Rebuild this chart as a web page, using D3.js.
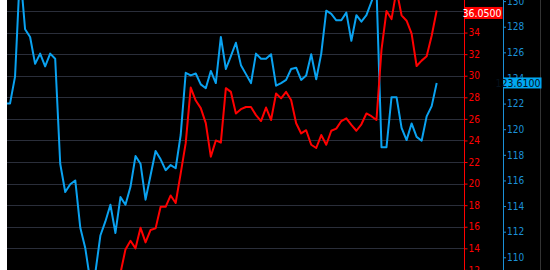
<!DOCTYPE html>
<html>
<head>
<meta charset="utf-8">
<script src="https://cdn.jsdelivr.net/npm/d3@7"></script>
<style>
  html, body { margin: 0; padding: 0; background: #000; }
  svg { display: block; }
  text { font-family: "Liberation Sans Narrow", "DejaVu Sans Condensed", Arial, sans-serif; }
</style>
</head>
<body>
<svg id="chart" width="550" height="270"></svg>
<script>
// Bar index (session number) along the x axis
const sessions = d3.range(1, 88);

// Blue series (right scale, 110–130)
const blueValues = [
  122.0, 122.0, 124.1, 132.4, 127.8, 127.2, 125.1, 125.9, 124.9, 125.9,
  125.5, 117.3, 115.1, 115.7, 116.0, 112.3, 110.7, 108.1, 108.8, 111.7,
  112.8, 114.1, 111.9, 114.7, 114.1, 115.5, 117.9, 117.3, 114.5, 116.4,
  118.3, 117.65, 116.8, 117.2, 116.95, 119.55, 124.4, 124.2, 124.35, 123.5,
  123.2, 124.55, 123.6, 127.2, 124.7, 125.7, 126.75, 125.0, 124.3, 123.6,
  125.9, 125.5, 125.5, 125.85, 123.4, 123.6, 123.85, 124.7, 124.8, 123.85,
  124.2, 125.85, 123.9, 125.9, 129.25, 129.0, 128.5, 128.5, 129.1, 126.9,
  128.9, 128.4, 128.9, 129.95, 131.0, 118.6, 118.6, 122.5, 122.5, 120.1,
  119.15, 120.45, 119.4, 119.1, 121.0, 121.8, 123.61
];

// Red series (inner scale, 12–36); earlier sessions lie below the visible range
const redValues = [
  null, null, null, null, null, null, null, null, null, null,
  null, null, null, null, null, null, null, null, null, null,
  null, null, 11.0, 11.7, 13.9, 14.7, 14.0, 15.9, 14.55, 15.7,
  15.85, 17.85, 17.85, 18.9, 18.2, 20.95, 23.75, 28.9, 27.7, 27.0,
  25.6, 22.5, 24.0, 23.8, 28.85, 28.5, 26.5, 26.9, 27.1, 27.1,
  26.35, 25.8, 27.05, 25.9, 28.35, 27.9, 28.5, 27.75, 25.6, 24.65,
  24.95, 23.6, 23.3, 24.5, 23.6, 24.9, 25.1, 25.8, 26.05, 25.45,
  24.9, 25.5, 26.5, 26.25, 25.9, 32.4, 36.0, 35.25, 37.95, 35.6,
  35.1, 33.9, 30.9, 31.4, 31.8, 33.7, 36.05
];

const redTicks = [12, 14, 16, 18, 20, 22, 24, 26, 28, 30, 32, 34, 36];
const blueTicks = [110, 112, 114, 116, 118, 120, 122, 124, 126, 128, 130];
const redLast = "36.0500";
const blueLast = "123.6100";

const svg = d3.select("#chart");
const W = 550, H = 270;
const plotLeft = 7, redAxisX = 464.5, blueAxisX = 503.5, borderX = 540.5;

const RED = "#ff0000", BLUE_LINE = "#0aa2f0", BLUE_AXIS = "#1b90d8", GRID = "#2a2e3a";
const FONT = "'Liberation Sans Narrow', 'DejaVu Sans Condensed', Arial, sans-serif";

svg.append("rect").attr("width", W).attr("height", H).attr("fill", "#000");

const x = d3.scaleLinear().domain([1, 87]).range([5, 436.7]);
const yRed = d3.scaleLinear().domain([12, 36]).range([269.9, 11]);
const yBlue = d3.scaleLinear().domain([110, 130]).range([257.3, 1.1]);

// gridlines (red scale)
svg.append("g").selectAll("line").data(redTicks).join("line")
  .attr("x1", plotLeft).attr("x2", redAxisX)
  .attr("y1", d => Math.round(yRed(d)) + 0.5).attr("y2", d => Math.round(yRed(d)) + 0.5)
  .attr("stroke", GRID).attr("stroke-width", 1);

svg.append("defs").append("clipPath").attr("id", "plotclip")
  .append("rect").attr("x", plotLeft).attr("y", 0).attr("width", redAxisX - plotLeft).attr("height", H);

const plot = svg.append("g").attr("clip-path", "url(#plotclip)");

const blueLine = d3.line().x((d, i) => x(sessions[i])).y(d => yBlue(d));
plot.append("path").datum(blueValues).attr("d", blueLine)
  .attr("fill", "none").attr("stroke", BLUE_LINE).attr("stroke-width", 2).attr("stroke-linejoin", "round");

const redLine = d3.line().defined(d => d !== null).x((d, i) => x(sessions[i])).y(d => yRed(d));
plot.append("path").datum(redValues).attr("d", redLine)
  .attr("fill", "none").attr("stroke", RED).attr("stroke-width", 2).attr("stroke-linejoin", "round");

// left white strip
svg.append("rect").attr("x", 0).attr("y", 0).attr("width", plotLeft).attr("height", H).attr("fill", "#ffffff");

// red axis
const redAxis = svg.append("g").attr("transform", `translate(${redAxisX},0)`)
  .call(d3.axisRight(yRed).tickValues(redTicks).tickSize(3).tickPadding(1).tickFormat(d3.format("d")));
redAxis.select(".domain").remove();
redAxis.selectAll(".tick line").attr("stroke", RED);
redAxis.selectAll(".tick text").attr("fill", RED).style("font-size", "10px").style("font-family", FONT);
svg.append("line").attr("x1", redAxisX).attr("x2", redAxisX).attr("y1", 0).attr("y2", H)
  .attr("stroke", RED).attr("stroke-width", 1);

// blue axis
const blueAxis = svg.append("g").attr("transform", `translate(${blueAxisX},0)`)
  .call(d3.axisRight(yBlue).tickValues(blueTicks).tickSize(2.5).tickPadding(1).tickFormat(d3.format("d")));
blueAxis.select(".domain").remove();
blueAxis.selectAll(".tick line").attr("stroke", BLUE_AXIS);
blueAxis.selectAll(".tick text").attr("fill", BLUE_AXIS).style("font-size", "10px").style("font-family", FONT);
svg.append("line").attr("x1", blueAxisX).attr("x2", blueAxisX).attr("y1", 0).attr("y2", H)
  .attr("stroke", BLUE_AXIS).attr("stroke-width", 1);

// right border
svg.append("line").attr("x1", borderX).attr("x2", borderX).attr("y1", 0).attr("y2", H)
  .attr("stroke", "#333").attr("stroke-width", 1);

// last-value labels
const rY = yRed(redValues[redValues.length - 1]);
svg.append("rect").attr("x", redAxisX).attr("y", rY - 3.5).attr("width", 38).attr("height", 12).attr("fill", RED);
svg.append("text").attr("x", redAxisX + 37).attr("y", rY + 2.5).attr("dy", "0.35em")
  .attr("text-anchor", "end").attr("fill", "#fff").style("font-size", "10.5px").style("font-family", FONT).text(redLast);

const bY = yBlue(blueValues[blueValues.length - 1]);
svg.append("rect").attr("x", blueAxisX).attr("y", bY - 5.5).attr("width", 38).attr("height", 11).attr("fill", "#00a8f2");
svg.append("text").attr("x", blueAxisX + 37).attr("y", bY).attr("dy", "0.35em")
  .attr("text-anchor", "end").attr("fill", "#06121c").style("font-size", "10.5px").style("font-family", FONT).text(blueLast);
</script>
</body>
</html>
